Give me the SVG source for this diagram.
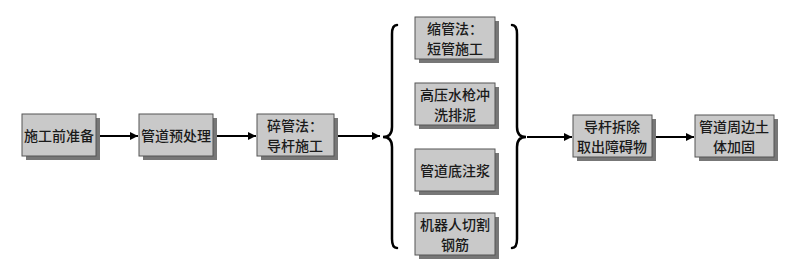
<svg xmlns="http://www.w3.org/2000/svg" width="800" height="268" viewBox="0 0 800 268">
<defs>
<style>
.box{fill:#c9c9c9;stroke:#555;stroke-width:1}
.sh{fill:#777}
.t{font-family:"Noto Sans CJK SC","Noto Sans CJK JP",sans-serif;font-size:14px;fill:#1a1a1a;text-anchor:middle;dominant-baseline:central;font-weight:500}
.ln{fill:none;stroke:#000;stroke-width:2}
.br{fill:none;stroke:#000;stroke-width:2.5;stroke-linecap:round}
</style>
<marker id="ah" viewBox="0 0 10 10" refX="10" refY="5" markerWidth="9" markerHeight="8" markerUnits="userSpaceOnUse" orient="auto"><path d="M0,0 L10,5 L0,10 z" fill="#000"/></marker>
</defs>
<rect width="800" height="268" fill="#fff"/>
<g id="connectors">
<line class="ln" x1="97" y1="136" x2="138" y2="136" marker-end="url(#ah)"/>
<line class="ln" x1="213" y1="136" x2="256" y2="136" marker-end="url(#ah)"/>
<line class="ln" x1="334" y1="136" x2="380" y2="136" marker-end="url(#ah)"/>
<line class="ln" x1="527" y1="137" x2="572" y2="137" marker-end="url(#ah)"/>
<line class="ln" x1="652" y1="137" x2="694" y2="137" marker-end="url(#ah)"/>
<path id="brace-left" class="br" d="M397,25 Q392,25 392,34 L392,127 Q392,137 383,137 Q392,137 392,147 L392,239 Q392,248 397,248"/>
<path id="brace-right" class="br" d="M512,25 Q517,25 517,34 L517,127 Q517,137 526,137 Q517,137 517,147 L517,239 Q517,248 512,248"/>
</g>
<g id="n1"><rect class="sh" x="26" y="118" width="74" height="42"/><rect class="box" x="22" y="114" width="74" height="42"/><text class="t" x="59" y="135">施工前准备</text></g>
<g id="n2"><rect class="sh" x="143" y="118" width="74" height="42"/><rect class="box" x="139" y="114" width="74" height="42"/><text class="t" x="176" y="135">管道预处理</text></g>
<g id="n3"><rect class="sh" x="261" y="118" width="77" height="42"/><rect class="box" x="257" y="114" width="77" height="42"/><text class="t" x="295" y="125">碎管法：</text><text class="t" x="295" y="145">导杆施工</text></g>
<g id="n4"><rect class="sh" x="419" y="21" width="80" height="42"/><rect class="box" x="415" y="17" width="80" height="42"/><text class="t" x="455" y="28">缩管法：</text><text class="t" x="455" y="48">短管施工</text></g>
<g id="n5"><rect class="sh" x="419" y="87" width="80" height="42"/><rect class="box" x="415" y="83" width="80" height="42"/><text class="t" x="455" y="94">高压水枪冲</text><text class="t" x="455" y="114">洗排泥</text></g>
<g id="n6"><rect class="sh" x="419" y="153" width="80" height="42"/><rect class="box" x="415" y="149" width="80" height="42"/><text class="t" x="455" y="170">管道底注浆</text></g>
<g id="n7"><rect class="sh" x="419" y="217" width="80" height="42"/><rect class="box" x="415" y="213" width="80" height="42"/><text class="t" x="455" y="224">机器人切割</text><text class="t" x="455" y="244">钢筋</text></g>
<g id="n8"><rect class="sh" x="577" y="119" width="79" height="42"/><rect class="box" x="573" y="115" width="79" height="42"/><text class="t" x="612" y="126">导杆拆除</text><text class="t" x="612" y="146">取出障碍物</text></g>
<g id="n9"><rect class="sh" x="699" y="119" width="79" height="42"/><rect class="box" x="695" y="115" width="79" height="42"/><text class="t" x="734" y="126">管道周边土</text><text class="t" x="734" y="146">体加固</text></g>
</svg>
